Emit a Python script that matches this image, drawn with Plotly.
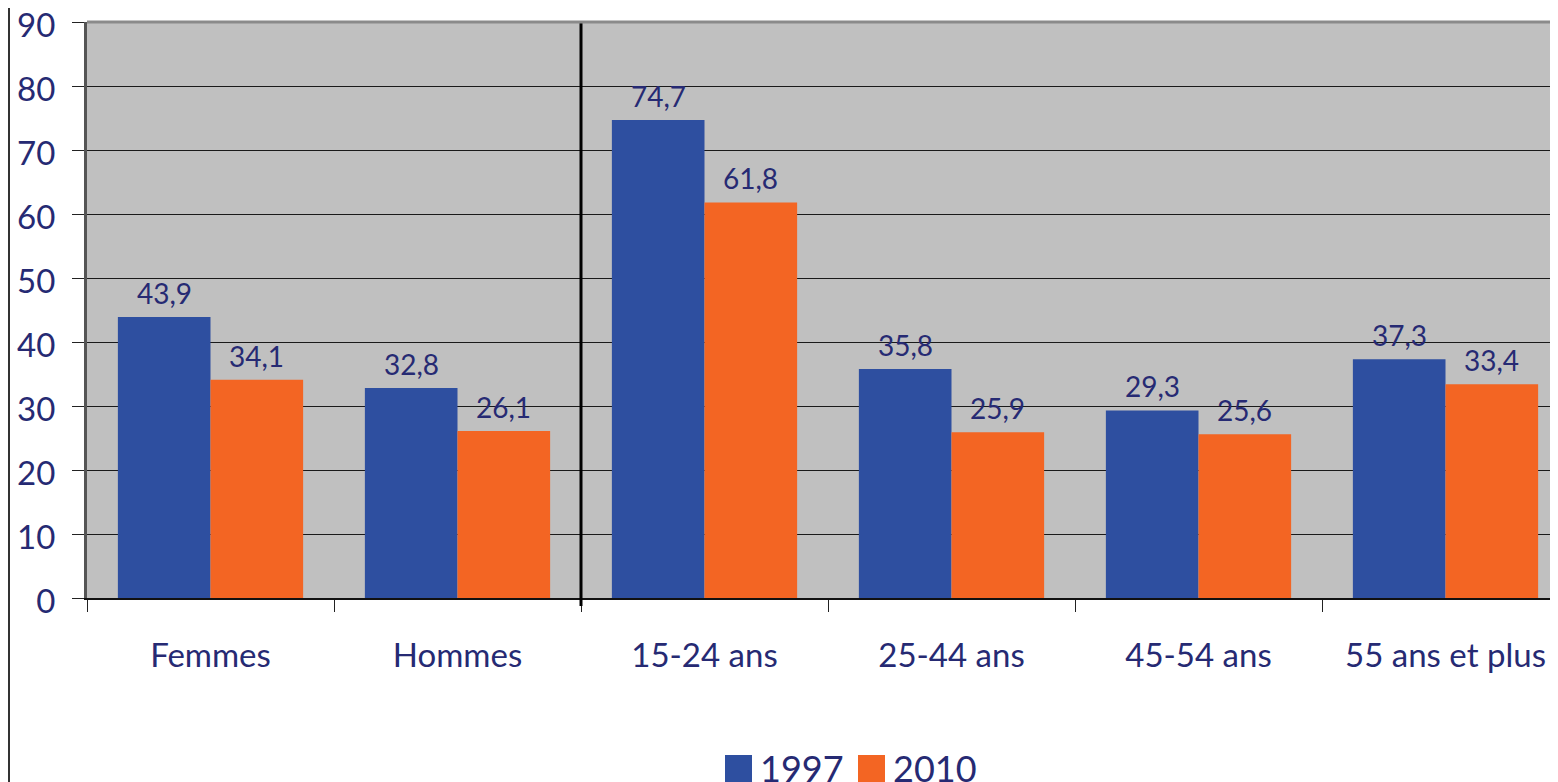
import plotly.graph_objects as go

categories = ["Femmes", "Hommes", "15-24 ans", "25-44 ans", "45-54 ans", "55 ans et plus"]
v1997 = [43.9, 32.8, 74.7, 35.8, 29.3, 37.3]
v2010 = [34.1, 26.1, 61.8, 25.9, 25.6, 33.4]
series_names = ["1997", "2010"]
y_ticks = [0, 10, 20, 30, 40, 50, 60, 70, 80, 90]

BLUE = "#2E4FA0"
ORANGE = "#F36523"
TXT = "#262A73"
FONT = "Lato"

OFF = 8  # page body margin
W, H = 1558 - OFF, 782 - OFF
ML, MT, MB, MR = 87 - OFF, 22 - OFF, 184, 0
PW = W - ML - MR
PH = H - MT - MB

fig = go.Figure()
fig.add_trace(go.Bar(x=categories, y=v1997, name=series_names[0], marker_color=BLUE, marker_line_width=0))
fig.add_trace(go.Bar(x=categories, y=v2010, name=series_names[1], marker_color=ORANGE, marker_line_width=0))

def fmt(v):
    return f"{v:.1f}".replace(".", ",")

annotations = []
cat_px = 247
for i, c in enumerate(categories):
    for vals, sh in ((v1997, -cat_px * 0.75 / 4), (v2010, cat_px * 0.75 / 4)):
        annotations.append(dict(x=c, y=vals[i], xref="x", yref="y", text=fmt(vals[i]),
                                showarrow=False, yanchor="bottom", xshift=sh, yshift=5,
                                font=dict(family=FONT, size=28, color=TXT)))

# convert reference-image pixels to paper coordinates
def px_x(p):
    return (p - OFF - ML) / PW

def px_y(p):
    return (H - MB - (p - OFF)) / PH

# manual legend
shapes = []
leg = [(725, BLUE, series_names[0], 758), (858, ORANGE, series_names[1], 891)]
for x0, col, name, tx in leg:
    shapes.append(dict(type="rect", xref="paper", yref="paper", x0=px_x(x0), x1=px_x(x0 + 27),
                       y0=px_y(782), y1=px_y(755), fillcolor=col, line_width=0, layer="above"))
    annotations.append(dict(x=px_x(tx), y=px_y(768), xref="paper", yref="paper", text=name,
                            showarrow=False, xanchor="left", yanchor="middle",
                            font=dict(family=FONT, size=36, color=TXT)))

# separator line between gender and age groups
shapes.append(dict(type="line", xref="x", yref="paper", x0=1.5, x1=1.5, y0=-8 / PH, y1=1,
                   line=dict(color="black", width=3), layer="above"))
# top border of plot
shapes.append(dict(type="line", xref="paper", yref="paper", x0=0, x1=1, y0=1, y1=1,
                   line=dict(color="#8A8A8A", width=3), layer="above"))
# left frame line of the picture
shapes.append(dict(type="line", xref="paper", yref="paper", x0=-(ML - 1) / PW, x1=-(ML - 1) / PW,
                   y0=px_y(782), y1=px_y(OFF),
                   line=dict(color="#333333", width=2)))

fig.update_layout(
    width=W, height=H,
    margin=dict(l=ML, r=MR, t=MT, b=MB, pad=0, autoexpand=False),
    paper_bgcolor="white", plot_bgcolor="#C0C0C0",
    barmode="group", bargap=0.25, bargroupgap=0,
    showlegend=False,
    annotations=annotations, shapes=shapes,
    font=dict(family=FONT, color=TXT),
)
fig.update_xaxes(range=[-0.5, -0.5 + PW / cat_px], tickson="boundaries", ticks="outside", ticklen=12,
                 tickcolor="#222222", showline=True, linecolor="#111111", linewidth=2, automargin=False,
                 tickfont=dict(family=FONT, size=33, color=TXT), ticklabelstandoff=27, fixedrange=True)
fig.update_yaxes(range=[0, 90], tickvals=y_ticks, ticks="outside", ticklen=12, tickcolor="#222222",
                 showgrid=True, gridcolor="#1A1A1A", gridwidth=1, showline=True, linecolor="#555555",
                 linewidth=3, zeroline=False, tickfont=dict(family=FONT, size=33, color=TXT),
                 ticklabelstandoff=10, ticklabelshift=3, ticklabeloverflow="allow", automargin=False)

fig.write_html("out.html")
